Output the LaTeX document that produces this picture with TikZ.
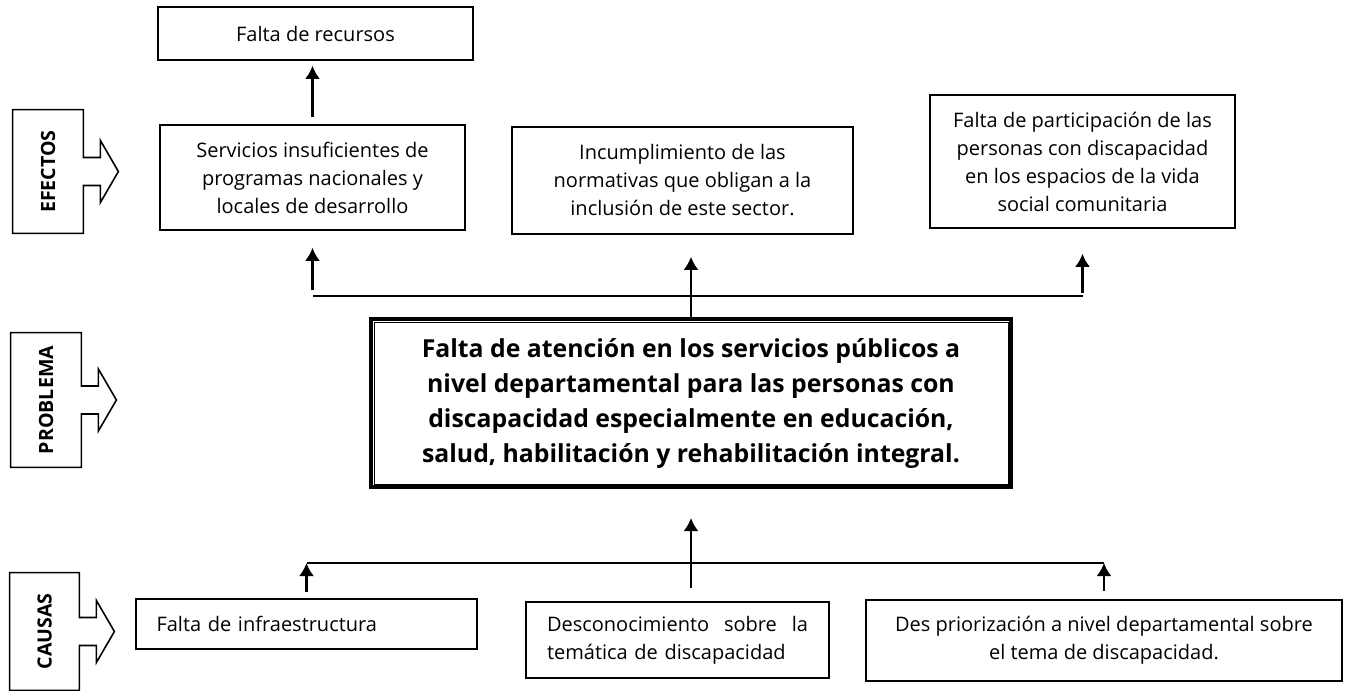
\documentclass[tikz,border=0pt]{standalone}
\usepackage{fontspec}
\setmainfont{Open Sans}
\usepackage{tikz}
\usetikzlibrary{arrows.meta,calc}

\begin{document}
\begin{tikzpicture}[x=0.5pt,y=-0.5pt,
    texto/.style={font=\fontsize{10pt}{14pt}\selectfont},
    caja/.style={draw,line width=0.8pt,texto,align=center,inner sep=0pt},
    etiqueta/.style={inner sep=0pt,font=\fontsize{9.8pt}{11pt}\selectfont\bfseries},
    flecha/.style={-{Latex[length=6.5pt,width=7.5pt]},line width=1.2pt},
    rama/.style={line width=1pt},
    ramafina/.style={line width=0.6pt}]

  \useasboundingbox (0,0) rectangle (1346,691);

  % etiquetas de nivel
  \node[etiqueta,minimum width=35pt,minimum height=61.5pt] (E) at (48,171.5) {\rotatebox{90}{EFECTOS}};
  \node[etiqueta,minimum width=35pt,minimum height=67pt] (P) at (46,400) {\rotatebox{90}{PROBLEMA}};
  \node[etiqueta,minimum width=34.5pt,minimum height=58.5pt] (C) at (44.5,631.5) {\rotatebox{90}{CAUSAS}};
  \foreach \n in {E,P,C}
    \draw[line width=0.8pt] (\n.north west) -- (\n.north east) -- ($(\n.east)+(0,-14)$) -- ++(17,0) -- ++(0,-17)
      -- ++(18,31) -- ++(-18,31) -- ++(0,-17) -- ++(-17,0) -- (\n.south east) -- (\n.south west) -- cycle;

  % efectos
  \node[caja,minimum width=157.5pt,minimum height=26.5pt] (recursos) at (315.5,33.5) {Falta de recursos};
  \node[caja,minimum width=152.5pt,minimum height=52.5pt] (servicios) at (312.5,177.5)
    {Servicios insuficientes de\\programas nacionales y\\locales de desarrollo};
  \node[caja,minimum width=170.5pt,minimum height=53.5pt] (incumpl) at (682.5,180.5)
    {Incumplimiento de las\\normativas que obligan a la\\inclusión de este sector.};
  \node[caja,minimum width=152.5pt,minimum height=66.5pt] (particip) at (1082.5,161.5)
    {Falta de participación de las\\personas con discapacidad\\en los espacios de la vida\\social comunitaria};

  % problema
  \node[draw,line width=2pt,align=center,inner sep=0pt,minimum width=320pt,minimum height=84pt,
    font=\fontsize{12.4pt}{17.5pt}\selectfont\bfseries] (problema) at (691,403)
    {Falta de atención en los servicios públicos a\\nivel departamental para las personas con\\discapacidad especialmente en educación,\\salud, habilitación y rehabilitación integral.};
  \draw[line width=0.5pt] ([shift={(5,5)}]problema.north west) rectangle ([shift={(-5,-5)}]problema.south east);

  % causas
  \node[caja,align=left,text width=150pt,inner xsep=10.25pt,minimum height=25pt] (infra) at (306.5,624)
    {Falta de infraestructura};
  \node[caja,align=left,text width=130.5pt,inner xsep=10.5pt,minimum height=38pt] (descon) at (677.5,640)
    {Desconocimiento\hfill sobre\hfill la\\temática de discapacidad};
  \node[caja,minimum width=238pt,minimum height=40.5pt] (despri) at (1104,640.5)
    {Des priorización a nivel departamental sobre\\el tema de discapacidad.};

  % conectores
  \coordinate (ramaE) at (0,296);
  \coordinate (ramaC) at (0,563);

  \draw[flecha,shorten <=3.5pt,shorten >=2.5pt] (servicios.north) -- (servicios.north |- recursos.south);

  \draw[rama] (servicios.south |- ramaE) -- (particip.south |- ramaE);
  \draw[flecha,shorten <=3pt,shorten >=8.5pt] (servicios.south |- ramaE) -- (servicios.south);
  \draw[flecha,shorten >=11pt] (problema.north) -- (problema.north |- incumpl.south);
  \draw[flecha,shorten <=1.5pt,shorten >=12.5pt] (particip.south |- ramaE) -- (particip.south);

  \draw[ramafina] (infra.north |- ramaC) -- (despri.north |- ramaC);
  \draw[flecha,shorten <=3pt] (infra.north) -- (infra.north |- ramaC);
  \draw[flecha,shorten <=6.5pt,shorten >=14.5pt] (problema.south |- descon.north) -- (problema.south);
  \draw[flecha,shorten <=4pt] (despri.north) -- (despri.north |- ramaC);

\end{tikzpicture}
\end{document}
